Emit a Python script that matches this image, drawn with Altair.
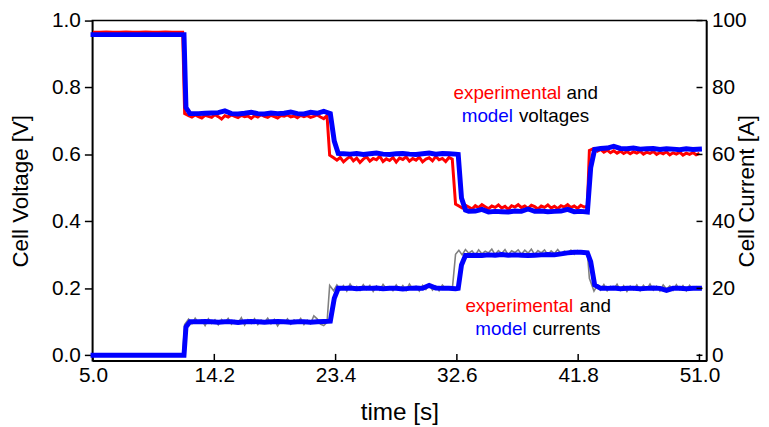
import altair as alt
import pandas as pd

# ---------------- data ----------------
exp_time = [5.0, 5.5, 6.0, 6.5, 7.0, 7.5, 8.0, 8.5, 9.0, 9.5, 10.0, 10.5, 11.0, 11.5, 11.8,
            11.95, 12.25, 12.5, 12.75, 13.0, 13.25, 13.5, 13.75, 14.0, 14.25, 14.5, 14.75, 15.0, 15.25,
            15.5, 15.75, 16.0, 16.25, 16.5, 16.75, 17.0, 17.25, 17.5, 17.75, 18.0, 18.25, 18.5, 18.75,
            19.0, 19.25, 19.5, 19.75, 20.0, 20.25, 20.5, 20.75, 21.0, 21.25, 21.5, 21.75, 22.0, 22.25,
            22.5, 22.75,
            22.95, 23.25, 23.5, 23.75, 24.0, 24.25, 24.5, 24.75, 25.0, 25.25, 25.5, 25.75, 26.0, 26.25,
            26.5, 26.75, 27.0, 27.25, 27.5, 27.75, 28.0, 28.25, 28.5, 28.75, 29.0, 29.25, 29.5, 29.75,
            30.0, 30.25, 30.5, 30.75, 31.0, 31.25, 31.5, 31.75, 32.0, 32.25,
            32.5, 32.75, 33.0, 33.25, 33.5, 33.75, 34.0, 34.25, 34.5, 34.75, 35.0, 35.25, 35.5, 35.75,
            36.0, 36.25, 36.5, 36.75, 37.0, 37.25, 37.5, 37.75, 38.0, 38.25, 38.5, 38.75, 39.0, 39.25,
            39.5, 39.75, 40.0, 40.25, 40.5, 40.75, 41.0, 41.25, 41.5, 41.75, 42.0, 42.25, 42.5,
            42.65, 43.0, 43.25, 43.5, 43.75, 44.0, 44.25, 44.5, 44.75, 45.0, 45.25, 45.5, 45.75, 46.0,
            46.25, 46.5, 46.75, 47.0, 47.25, 47.5, 47.75, 48.0, 48.25, 48.5, 48.75, 49.0, 49.25, 49.5,
            49.75, 50.0, 50.25, 50.5, 50.75, 51.0]

exp_voltage = [0.965, 0.965, 0.966, 0.965, 0.965, 0.966, 0.965, 0.965, 0.966, 0.965, 0.965, 0.966, 0.965, 0.965, 0.965,
               0.722, 0.716, 0.712, 0.718, 0.713, 0.709, 0.717, 0.714, 0.711, 0.719,
               0.713, 0.706, 0.716, 0.712, 0.718, 0.714, 0.710, 0.717, 0.713, 0.715,
               0.708, 0.716, 0.712, 0.719, 0.714, 0.711, 0.717, 0.713, 0.709, 0.716,
               0.714, 0.718, 0.712, 0.715, 0.710, 0.717, 0.713, 0.716, 0.711, 0.714,
               0.718, 0.712, 0.707, 0.716,
               0.598, 0.590, 0.583, 0.591, 0.578, 0.587, 0.594, 0.581, 0.589, 0.576,
               0.586, 0.593, 0.580, 0.588, 0.584, 0.595, 0.579, 0.587, 0.582, 0.591,
               0.577, 0.589, 0.585, 0.593, 0.580, 0.588, 0.583, 0.592, 0.578, 0.586,
               0.590, 0.581, 0.594, 0.584, 0.588, 0.579, 0.591, 0.586,
               0.452, 0.446, 0.440, 0.448, 0.443, 0.437, 0.447, 0.441, 0.450, 0.444,
               0.438, 0.446, 0.442, 0.449, 0.440, 0.445, 0.436, 0.447, 0.443, 0.450,
               0.441, 0.446, 0.439, 0.448, 0.444, 0.437, 0.446, 0.442, 0.449, 0.440,
               0.445, 0.438, 0.447, 0.443, 0.450, 0.441, 0.446, 0.439, 0.448, 0.443,
               0.445,
               0.612, 0.618, 0.610, 0.615, 0.607, 0.613, 0.605, 0.611, 0.604, 0.610,
               0.603, 0.609, 0.602, 0.608, 0.604, 0.610, 0.601, 0.607, 0.603, 0.609,
               0.600, 0.606, 0.602, 0.608, 0.599, 0.605, 0.601, 0.607, 0.598, 0.604,
               0.600, 0.606, 0.599, 0.603]

exp_current = [0.0, 0.0, 0.0, 0.0, 0.0, 0.0, 0.0, 0.0, 0.0, 0.0, 0.0, 0.0, 0.0, 0.0, 0.0,
               9.2, 10.8, 9.4, 11.1, 9.7, 10.5, 8.9, 10.9, 9.5, 10.6,
               9.1, 10.7, 9.8, 11.0, 9.3, 10.4, 9.6, 11.2, 9.0, 10.6,
               9.5, 10.9, 9.2, 10.5, 9.8, 11.1, 9.4, 10.7, 8.8, 10.3,
               9.6, 10.9, 9.3, 10.6, 9.7, 11.0, 9.2, 10.5, 9.5, 11.8,
               10.9, 9.3, 8.9, 9.8,
               20.9, 19.3, 21.0, 19.6, 20.8, 19.2, 21.3, 19.8, 20.6, 19.4,
               21.1, 19.7, 20.9, 19.1, 20.7, 19.5, 21.2, 19.9, 20.5, 19.3,
               21.0, 19.6, 20.8, 19.4, 21.3, 19.8, 20.6, 19.2, 20.9, 19.7,
               21.1, 19.5, 20.7, 19.3, 21.0, 19.9, 20.4, 19.6,
               30.2, 31.4, 30.0, 31.6, 30.5, 31.2, 29.9, 31.5, 30.3, 31.1,
               30.6, 31.7, 30.1, 31.3, 30.4, 31.6, 30.0, 31.2, 30.7, 31.5,
               30.2, 31.4, 30.5, 31.7, 30.1, 31.3, 30.6, 31.5, 30.0, 31.2,
               30.4, 31.6, 30.3, 31.1, 30.7, 31.4, 30.2, 31.3, 30.5, 31.0,
               30.6,
               23.0, 19.2, 20.9, 19.5, 21.1, 19.3, 20.6, 19.8, 21.2, 19.4,
               20.8, 19.1, 20.7, 19.6, 21.0, 19.3, 20.9, 19.7, 21.3, 19.5,
               20.6, 19.2, 21.0, 19.8, 20.7, 19.4, 21.1, 19.6, 20.8, 19.3,
               20.9, 19.7, 20.5, 19.6]

model_time = [5.0, 6.0, 7.0, 8.0, 9.0, 10.0, 11.0, 11.9,
              12.05, 12.35,
              13.0, 13.5, 14.0, 14.5, 15.0, 15.5, 16.0, 16.5, 17.0, 17.5, 18.0, 18.5, 19.0, 19.5,
              20.0, 20.5, 21.0, 21.5, 22.0, 22.5, 23.0,
              23.3, 23.6,
              24.0, 24.5, 25.0, 25.5, 26.0, 26.5, 27.0, 27.5, 28.0, 28.5, 29.0, 29.5, 30.0, 30.5,
              31.0, 31.5, 32.0, 32.5, 32.7,
              32.95, 33.25,
              33.5, 34.0, 34.5, 35.0, 35.5, 36.0, 36.5, 37.0, 37.5, 38.0, 38.5, 39.0, 39.5, 40.0,
              40.5, 41.0, 41.5, 42.0, 42.5,
              42.75, 43.05,
              43.5, 44.0, 44.5, 45.0, 45.5, 46.0, 46.5, 47.0, 47.5, 48.0, 48.5, 49.0, 49.5, 50.0,
              50.5, 51.0]

model_voltage = [0.958, 0.958, 0.958, 0.958, 0.958, 0.958, 0.958, 0.958,
                 0.740, 0.722,
                 0.722, 0.723, 0.724, 0.725, 0.730, 0.722, 0.721, 0.723, 0.726, 0.722, 0.721, 0.724,
                 0.722, 0.723, 0.727, 0.722, 0.721, 0.726, 0.723, 0.729, 0.722,
                 0.640, 0.603,
                 0.602, 0.601, 0.603, 0.600, 0.602, 0.604, 0.601, 0.600, 0.602, 0.603, 0.601, 0.600,
                 0.602, 0.604, 0.601, 0.603, 0.602, 0.601, 0.600,
                 0.470, 0.434,
                 0.430, 0.431, 0.436, 0.428, 0.430, 0.429, 0.428, 0.431, 0.430, 0.437, 0.430, 0.431,
                 0.429, 0.430, 0.431, 0.436, 0.429, 0.430, 0.428,
                 0.560, 0.615,
                 0.618, 0.619, 0.624, 0.618, 0.617, 0.619, 0.616, 0.617, 0.618, 0.615, 0.617, 0.616,
                 0.614, 0.617, 0.615, 0.616]

model_current = [0.0, 0.0, 0.0, 0.0, 0.0, 0.0, 0.0, 0.0,
                 8.5, 10.0,
                 10.0, 10.1, 10.0, 9.9, 10.0, 10.0, 9.8, 10.0, 10.1, 10.0, 9.9, 10.0,
                 10.1, 10.0, 9.9, 10.0, 10.0, 9.9, 10.0, 10.1, 10.2,
                 17.0, 20.0,
                 20.0, 20.1, 19.9, 20.0, 20.0, 20.1, 19.9, 20.0, 20.0, 19.8, 20.0, 20.1,
                 20.0, 20.9, 20.1, 20.0, 20.0, 19.9, 20.0,
                 27.0, 29.8,
                 29.8, 29.9, 29.8, 30.0, 29.9, 30.1, 29.9, 30.0, 29.9, 29.8, 29.9, 30.0,
                 30.1, 30.0, 30.3, 30.6, 30.8, 30.8, 30.6,
                 28.0, 21.0,
                 20.0, 20.0, 20.1, 19.9, 20.0, 20.0, 19.9, 20.0, 20.1, 20.0, 19.4, 20.0,
                 20.0, 19.9, 20.0, 20.0]

time_ticks = [5.0, 14.2, 23.4, 32.6, 41.8, 51.0]
voltage_ticks = [0.0, 0.2, 0.4, 0.6, 0.8, 1.0]
current_ticks = [0, 20, 40, 60, 80, 100]

voltage_words = ["experimental", "and", "model", "voltages"]
current_words = ["experimental", "and", "model", "currents"]

# ---------------- chart ----------------
W, H = 619, 343
FONT = "Liberation Sans"
RED, BLUE, GRAY = "#ff0000", "#0000ff", "#808080"

exp_df = pd.DataFrame({"time": exp_time, "voltage": exp_voltage, "current": exp_current})
model_df = pd.DataFrame({"time": model_time, "voltage": model_voltage, "current": model_current})

X = alt.X("time:Q",
          scale=alt.Scale(domain=[4.947, 51.53], nice=False, zero=False),
          axis=alt.Axis(values=time_ticks, format=".1f", title="time [s]",
                        ticks=False, tickSize=0, labelPadding=4, labelFontSize=21,
                        labelFlush=False,
                        titleFontSize=24.5, titleX=W / 2, titleY=59,
                        titleBaseline="alphabetic", titleAlign="center"))

YV = alt.Y("voltage:Q",
           scale=alt.Scale(domain=[-0.0166, 1.0], nice=False, zero=False),
           axis=alt.Axis(orient="left", values=voltage_ticks, format=".1f",
                         title="Cell Voltage [V]", tickSize=8, labelPadding=4,
                         labelFontSize=21, labelFlush=False,
                         titleFontSize=22.5, titleX=-60, titleY=H / 2,
                         titleAngle=270, titleBaseline="bottom", titleAlign="center"))

YI = alt.Y("current:Q",
           scale=alt.Scale(domain=[-1.66, 100], nice=False, zero=False),
           axis=alt.Axis(orient="right", values=current_ticks, format="d",
                         title="Cell Current [A]", ticks=False, tickSize=0, labelPadding=5,
                         labelFontSize=21, labelFlush=False,
                         titleFontSize=22.5, titleX=29, titleY=H / 2,
                         titleAngle=270, titleBaseline="top", titleAlign="center"))

red = alt.Chart(exp_df).mark_line(color=RED, strokeWidth=3).encode(x=X, y=YV)
blue_v = alt.Chart(model_df).mark_line(color=BLUE, strokeWidth=5, strokeCap="square").encode(x=X, y=YV)

gray = alt.Chart(exp_df).mark_line(color=GRAY, strokeWidth=1.6).encode(x=X, y=YI)
blue_i = alt.Chart(model_df).mark_line(color=BLUE, strokeWidth=5, strokeCap="square").encode(x=X, y=YI)

# inward ticks on the bottom and right axes
bottom_ticks = alt.Chart(pd.DataFrame({"time": time_ticks})).mark_rule(
    color="black", strokeWidth=1.5).encode(x=X, y=alt.value(H - 7), y2=alt.value(H))
right_ticks = alt.Chart(pd.DataFrame({"current": current_ticks})).mark_rule(
    color="black", strokeWidth=1.5).encode(y=YI, x=alt.value(W - 10), x2=alt.value(W - 4))


def word(text, color, x, y, align):
    return alt.Chart(pd.DataFrame({"w": [text]})).mark_text(
        align=align, baseline="middle", font=FONT, fontSize=19, color=color
    ).encode(x=alt.value(x), y=alt.value(y), text="w:N")


texts = alt.layer(
    word(voltage_words[0], RED, 472.7, 73, "right"),
    word(voltage_words[1], "black", 478, 73, "left"),
    word(voltage_words[2], BLUE, 424, 96, "right"),
    word(voltage_words[3], "black", 430, 96, "left"),
    word(current_words[0], RED, 484.7, 288, "right"),
    word(current_words[1], "black", 491, 288, "left"),
    word(current_words[2], BLUE, 437.7, 311.4, "right"),
    word(current_words[3], "black", 443.7, 311.4, "left"),
)

volt_layer = alt.layer(red, blue_v, bottom_ticks)
curr_layer = alt.layer(gray, blue_i, right_ticks)

chart = alt.layer(volt_layer, curr_layer, texts).resolve_scale(y="independent").properties(
    width=W, height=H,
    autosize=alt.AutoSizeParams(type="none"),
    padding={"left": 85, "top": 11, "right": 55, "bottom": 65},
).configure_view(stroke="black", strokeWidth=1.5).configure_axis(
    labelFont=FONT, titleFont=FONT, labelColor="black", titleColor="black",
    domainColor="black", domainWidth=1.5, tickColor="black", tickWidth=1.5,
    grid=False, titleFontWeight="normal",
)

chart.save("out.html", embed_options={"renderer": "svg", "actions": False})
